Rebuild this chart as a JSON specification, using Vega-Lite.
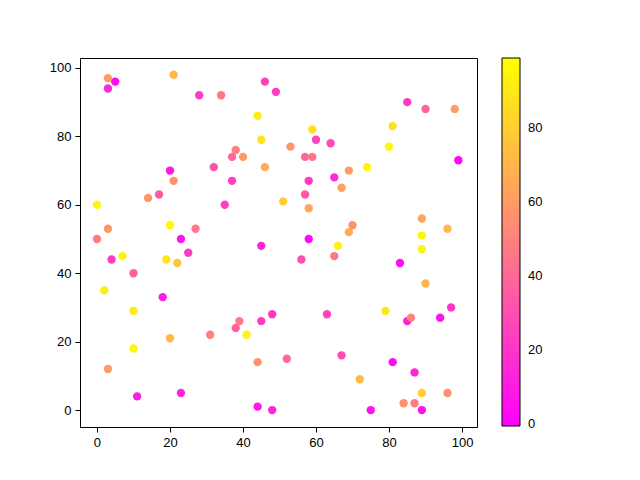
{
  "$schema": "https://vega.github.io/schema/vega-lite/v6.json",
  "width": 397,
  "height": 369,
  "autosize": "none",
  "padding": {"left": 80, "top": 58, "right": 163, "bottom": 53},
  "background": "white",
  "config": {
    "view": {"stroke": "black", "strokeWidth": 1},
    "axis": {
      "grid": false,
      "domainColor": "black",
      "tickColor": "black",
      "tickSize": 5,
      "labelColor": "black",
      "labelFont": "Liberation Sans",
      "labelFontSize": 13,
      "labelPadding": 4,
      "title": null
    },
    "legend": {
      "labelFont": "Liberation Sans",
      "labelFontSize": 13,
      "labelColor": "black"
    }
  },
  "data": {
    "values": [
      {"x": 3, "y": 97, "c": 60},
      {"x": 5, "y": 96, "c": 3},
      {"x": 3, "y": 94, "c": 15},
      {"x": 21, "y": 98, "c": 72},
      {"x": 28, "y": 92, "c": 22},
      {"x": 34, "y": 92, "c": 45},
      {"x": 46, "y": 96, "c": 25},
      {"x": 49, "y": 93, "c": 22},
      {"x": 44, "y": 86, "c": 92},
      {"x": 45, "y": 79, "c": 88},
      {"x": 38, "y": 76, "c": 50},
      {"x": 37, "y": 74, "c": 40},
      {"x": 40, "y": 74, "c": 60},
      {"x": 32, "y": 71, "c": 32},
      {"x": 46, "y": 71, "c": 66},
      {"x": 21, "y": 67, "c": 56},
      {"x": 20, "y": 70, "c": 8},
      {"x": 37, "y": 67, "c": 25},
      {"x": 14, "y": 62, "c": 58},
      {"x": 17, "y": 63, "c": 35},
      {"x": 0, "y": 60, "c": 95},
      {"x": 35, "y": 60, "c": 25},
      {"x": 3, "y": 53, "c": 58},
      {"x": 0, "y": 50, "c": 48},
      {"x": 23, "y": 50, "c": 8},
      {"x": 20, "y": 54, "c": 96},
      {"x": 27, "y": 53, "c": 46},
      {"x": 85, "y": 90, "c": 22},
      {"x": 90, "y": 88, "c": 40},
      {"x": 98, "y": 88, "c": 60},
      {"x": 59, "y": 82, "c": 86},
      {"x": 81, "y": 83, "c": 86},
      {"x": 60, "y": 79, "c": 26},
      {"x": 64, "y": 78, "c": 28},
      {"x": 80, "y": 77, "c": 96},
      {"x": 53, "y": 77, "c": 58},
      {"x": 57, "y": 74, "c": 40},
      {"x": 59, "y": 74, "c": 45},
      {"x": 99, "y": 73, "c": 2},
      {"x": 74, "y": 71, "c": 95},
      {"x": 69, "y": 70, "c": 62},
      {"x": 58, "y": 67, "c": 22},
      {"x": 65, "y": 68, "c": 16},
      {"x": 67, "y": 65, "c": 62},
      {"x": 57, "y": 63, "c": 34},
      {"x": 51, "y": 61, "c": 80},
      {"x": 58, "y": 59, "c": 64},
      {"x": 89, "y": 56, "c": 64},
      {"x": 70, "y": 54, "c": 56},
      {"x": 69, "y": 52, "c": 66},
      {"x": 96, "y": 53, "c": 72},
      {"x": 89, "y": 51, "c": 96},
      {"x": 58, "y": 50, "c": 2},
      {"x": 66, "y": 48, "c": 95},
      {"x": 45, "y": 48, "c": 14},
      {"x": 4, "y": 44, "c": 22},
      {"x": 7, "y": 45, "c": 95},
      {"x": 19, "y": 44, "c": 88},
      {"x": 22, "y": 43, "c": 76},
      {"x": 25, "y": 46, "c": 22},
      {"x": 10, "y": 40, "c": 38},
      {"x": 2, "y": 35, "c": 92},
      {"x": 18, "y": 33, "c": 10},
      {"x": 10, "y": 29, "c": 92},
      {"x": 48, "y": 28, "c": 20},
      {"x": 45, "y": 26, "c": 22},
      {"x": 39, "y": 26, "c": 45},
      {"x": 38, "y": 24, "c": 38},
      {"x": 41, "y": 22, "c": 94},
      {"x": 31, "y": 22, "c": 50},
      {"x": 20, "y": 21, "c": 72},
      {"x": 10, "y": 18, "c": 96},
      {"x": 3, "y": 12, "c": 60},
      {"x": 44, "y": 14, "c": 56},
      {"x": 11, "y": 4, "c": 12},
      {"x": 23, "y": 5, "c": 14},
      {"x": 44, "y": 1, "c": 8},
      {"x": 48, "y": 0, "c": 14},
      {"x": 89, "y": 47, "c": 95},
      {"x": 56, "y": 44, "c": 30},
      {"x": 65, "y": 45, "c": 46},
      {"x": 83, "y": 43, "c": 4},
      {"x": 90, "y": 37, "c": 70},
      {"x": 63, "y": 28, "c": 26},
      {"x": 79, "y": 29, "c": 90},
      {"x": 85, "y": 26, "c": 12},
      {"x": 86, "y": 27, "c": 52},
      {"x": 94, "y": 27, "c": 7},
      {"x": 97, "y": 30, "c": 20},
      {"x": 52, "y": 15, "c": 40},
      {"x": 67, "y": 16, "c": 28},
      {"x": 81, "y": 14, "c": 4},
      {"x": 87, "y": 11, "c": 14},
      {"x": 72, "y": 9, "c": 72},
      {"x": 89, "y": 5, "c": 80},
      {"x": 96, "y": 5, "c": 56},
      {"x": 84, "y": 2, "c": 56},
      {"x": 87, "y": 2, "c": 48},
      {"x": 75, "y": 0, "c": 7},
      {"x": 89, "y": 0, "c": 7}
    ]
  },
  "mark": {"type": "circle", "size": 70, "opacity": 1},
  "encoding": {
    "x": {
      "field": "x",
      "type": "quantitative",
      "scale": {"domain": [-4.65, 104.1], "nice": false, "zero": false},
      "axis": {"values": [0, 20, 40, 60, 80, 100], "domain": false}
    },
    "y": {
      "field": "y",
      "type": "quantitative",
      "scale": {"domain": [-4.95, 102.9], "nice": false, "zero": false},
      "axis": {"values": [0, 20, 40, 60, 80, 100], "domain": false}
    },
    "color": {
      "field": "c",
      "type": "quantitative",
      "scale": {"domain": [-0.5, 99], "range": ["#ff00ff", "#ffff00"], "interpolate": "rgb"},
      "legend": {
        "title": null,
        "orient": "right",
        "offset": 25,
        "direction": "vertical",
        "gradientLength": 368,
        "gradientThickness": 18,
        "gradientStrokeColor": "black",
        "gradientStrokeWidth": 1,
        "values": [0, 20, 40, 60, 80],
        "labelOffset": 8,
        "labelBaseline": "middle"
      }
    }
  }
}
